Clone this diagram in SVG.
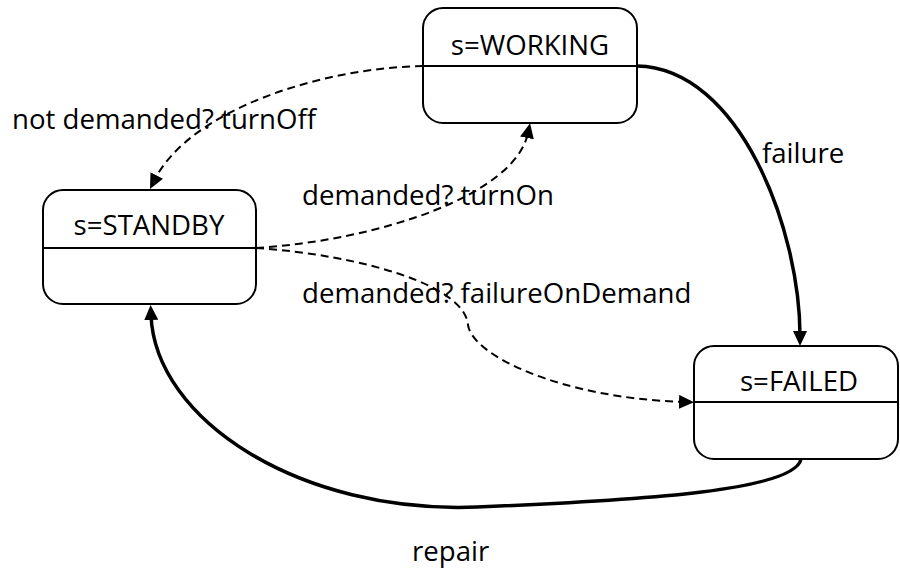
<svg xmlns="http://www.w3.org/2000/svg" width="900" height="570" viewBox="0 0 900 570">
<style>
.box{fill:#fff;stroke:#000;stroke-width:2}
.div{stroke:#000;stroke-width:2}
.t{font-family:"Open Sans","Liberation Sans",sans-serif;font-size:27.6px;fill:#000}
.c{text-anchor:middle}
.dash{fill:none;stroke:#000;stroke-width:2;stroke-dasharray:8 5}
.solid{fill:none;stroke:#000;stroke-width:3.5}
</style>
<defs>
<marker id="arr" markerUnits="userSpaceOnUse" markerWidth="15" markerHeight="14" refX="5" refY="7" orient="auto">
<path d="M0,0 L15,7 L0,14 z" fill="#000"/>
</marker>
</defs>
<g id="WORKING">
<rect class="box" x="423" y="8" width="214" height="115" rx="20"/>
<line class="div" x1="423" y1="66" x2="637" y2="66"/>
<text class="t c" x="530" y="55">s=WORKING</text>
</g>
<g id="STANDBY">
<rect class="box" x="43" y="190" width="213" height="114" rx="20"/>
<line class="div" x1="43" y1="248" x2="256" y2="248"/>
<text class="t c" x="149" y="235">s=STANDBY</text>
</g>
<g id="FAILED">
<rect class="box" x="694" y="346" width="204" height="113" rx="20"/>
<line class="div" x1="694" y1="402" x2="898" y2="402"/>
<text class="t c" x="799" y="391">s=FAILED</text>
</g>
<g id="connectors">
<path class="dash" d="M423,66 C320,68 190,110 154.5,180" marker-end="url(#arr)"/>
<path class="dash" d="M256,248 C380,240 515,195 528,133" marker-end="url(#arr)"/>
<path class="dash" d="M256,248 C360,255 465,285 468,325 C472,355 560,398 684,402" marker-end="url(#arr)"/>
<path class="solid" d="M637,66 C740,68 800,230 800,336" marker-end="url(#arr)"/>
<path class="solid" d="M801,459 C795,490 650,500 477,507 C300,514 155,420 151,315" marker-end="url(#arr)"/>
</g>
<g id="labels">
<text class="t" x="12" y="129">not demanded? turnOff</text>
<text class="t" x="302" y="205">demanded? turnOn</text>
<text class="t" x="302" y="303">demanded? failureOnDemand</text>
<text class="t" x="762" y="163">failure</text>
<text class="t" x="412" y="561">repair</text>
</g>
</svg>
